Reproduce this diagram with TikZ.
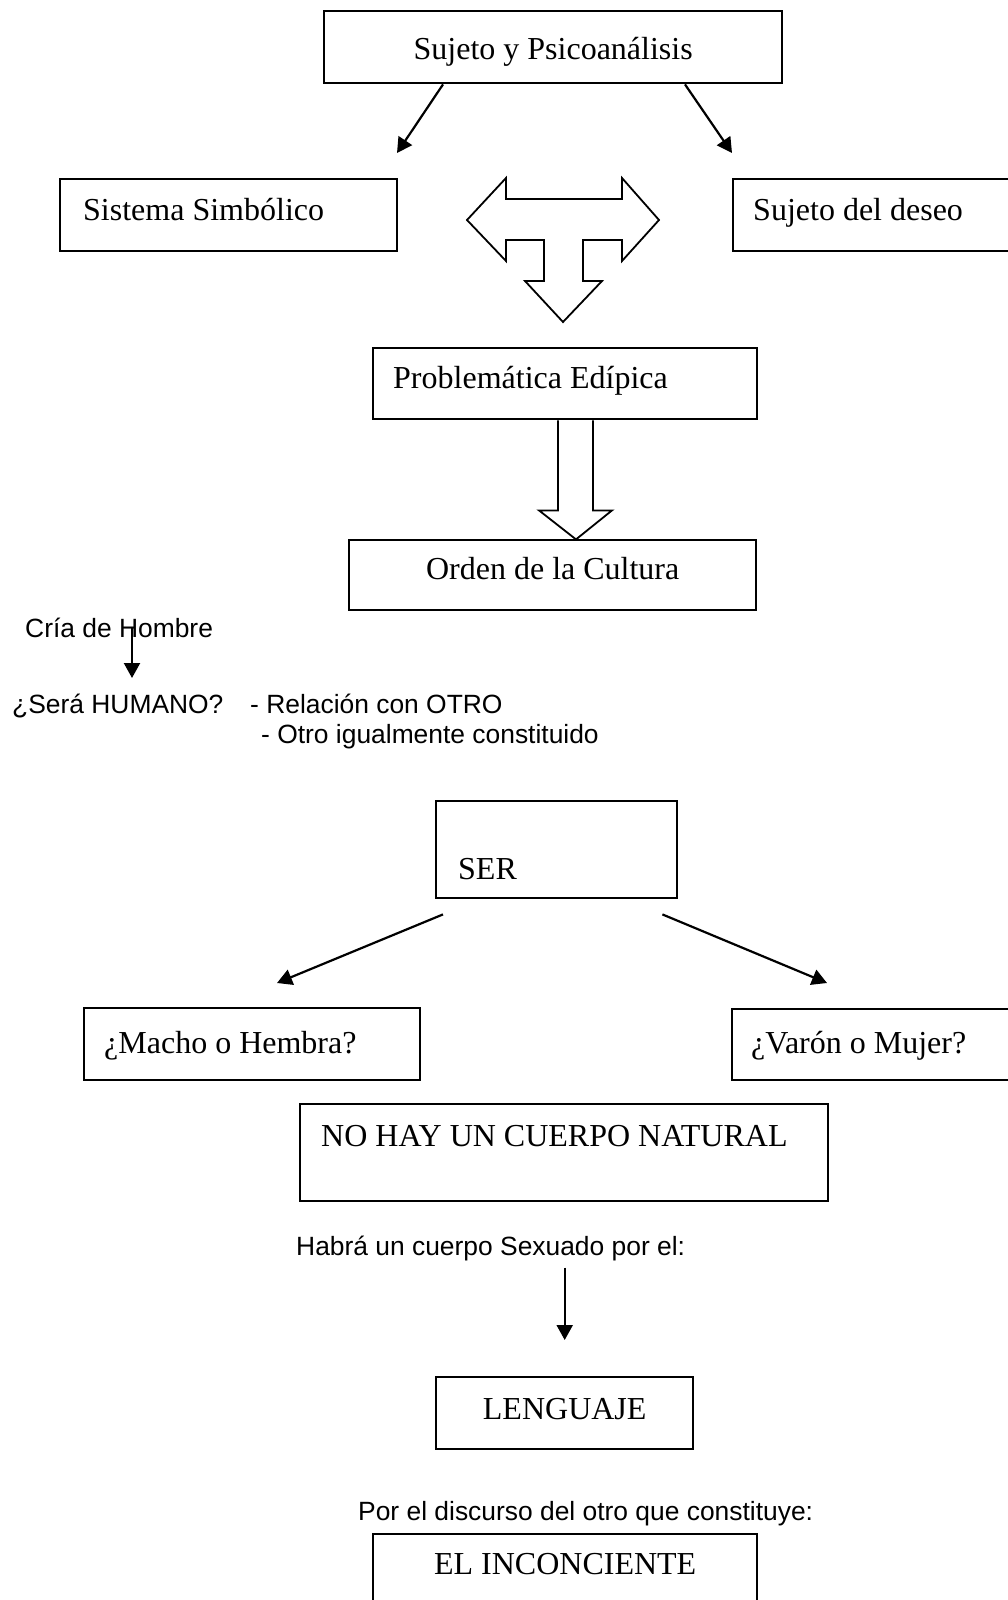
\documentclass[tikz,border=0pt]{standalone}
\usepackage{fontspec}
\setmainfont{Liberation Serif}
\newfontfamily\arialfont{Liberation Sans}
\usetikzlibrary{arrows.meta}
\tikzset{
  caja/.style={draw, line width=2.4pt, inner ysep=0pt, anchor=north west, font=\fontsize{32pt}{38pt}\selectfont},
  cajaizq/.style={caja, align=flush left},
  nota/.style={inner sep=0pt, anchor=base west, font=\arialfont\fontsize{26.4pt}{31pt}\selectfont},
  flecha/.style={-{Triangle[length=15pt,width=16pt]}, line width=2.2pt},
  bloque/.style={line width=1.8pt, line join=miter}
}
\begin{document}
\begin{tikzpicture}[x=1pt,y=-1pt]
			\useasboundingbox (0,0) rectangle (1008,1600);
			\clip (0,0) rectangle (1008,1600);
			% arriba
			\node [caja, inner xsep=0pt, minimum width=458pt, text height=48pt, text depth=24pt] (sujeto) at (323,10) {Sujeto y Psicoanálisis};
			\node [cajaizq, inner xsep=23pt, text width=291pt, text height=41pt, text depth=31pt] (simbolico) at (59,178) {Sistema Simbólico};
			\node [cajaizq, inner xsep=20pt, text width=298pt, text height=41pt, text depth=31pt] (deseo) at (732,178) {Sujeto del deseo};
			\draw [flecha] ([xshift=120pt]sujeto.south west) -- ([shift={(338,-25)}]simbolico.north west);
			\draw [flecha] ([xshift=362pt]sujeto.south west) -- ([shift={(0,-25)}]deseo.north west);
			\draw [bloque] (467,220) -- (506,178) -- (506,199) -- (622,199) -- (622,178) -- (659,220) -- (622,261) -- (622,240) -- (583,240) -- (583,281) -- (602,281) -- (563,322) -- (525,281) -- (544,281) -- (544,240) -- (506,240) -- (506,261) -- cycle;
			\node [cajaizq, inner xsep=20pt, text width=344pt, text height=40pt, text depth=31pt] (edipo) at (372,347) {Problemática Edípica};
			\draw [bloque] ([xshift=186pt]edipo.south west) -- ++(0,90) -- ++(-19,0) -- ++(37,29) -- ++(36,-29) -- ++(-19,0) -- ++(0,-90);
			\node [caja, inner xsep=0pt, minimum width=407pt, text height=39pt, text depth=31pt] (cultura) at (348,539) {Orden de la Cultura};
			% texto suelto
			\node [nota] (cria) at (25,637) {Cría de Hombre};
			\coordinate (criafin) at (132,678);
			\draw [flecha] (cria.center -| criafin) -- (criafin);
			\node [nota] (humano) at (12,713) {¿Será HUMANO?};
			\node [nota] (relacion) at (250,713) {- Relación con OTRO};
			\node [nota] (otro) at (261,743) {- Otro igualmente constituido};
			% ser
			\node [cajaizq, inner xsep=22pt, text width=197pt, text height=78pt, text depth=19pt] (ser) at (435,800) {SER};
			\node [cajaizq, inner xsep=20pt, text width=296pt, text height=45pt, text depth=27pt] (macho) at (83,1007) {¿Macho o Hembra?};
			\node [cajaizq, inner xsep=19pt, text width=301pt, text height=44pt, text depth=27pt] (varon) at (731,1008) {¿Varón o Mujer?};
			\draw [flecha] ([shift={(8,15)}]ser.south west) -- ([shift={(194,-24)}]macho.north west);
			\draw [flecha] ([shift={(-16,15)}]ser.south east) -- ([shift={(96,-25)}]varon.north west);
			\node [cajaizq, inner xsep=21pt, text width=486pt, text height=42pt, text depth=55pt] (natural) at (299,1103) {NO HAY UN CUERPO NATURAL};
			% abajo
			\node [nota] (habra) at (296,1255) {Habrá un cuerpo Sexuado por el:};
			\node [caja, inner xsep=0pt, minimum width=257pt, text height=42pt, text depth=30pt] (lenguaje) at (435,1376) {LENGUAJE};
			\draw [flecha, shorten <=7pt] (habra.south -| lenguaje.north) -- ([yshift=36pt]lenguaje.north);
			\node [nota] (discurso) at (358,1520) {Por el discurso del otro que constituye:};
			\node [caja, inner xsep=0pt, minimum width=384pt, text height=40pt, text depth=50pt] (inconciente) at (372,1533) {EL INCONCIENTE};
		\end{tikzpicture}
\end{document}
